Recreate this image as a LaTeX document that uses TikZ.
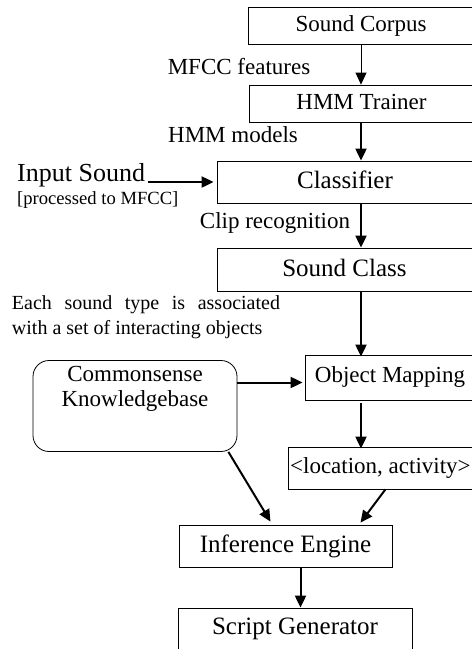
\documentclass[tikz,border=0pt]{standalone}
\usepackage{fontspec}
\setmainfont{Liberation Serif}
\usetikzlibrary{arrows.meta}

\begin{document}
\begin{tikzpicture}[x=1pt, y=-1pt, >={Triangle[length=12pt,width=11pt]},
    box/.style={draw, line width=0.8pt, inner sep=0pt, font=\fontsize{23}{27}\selectfont},
    lbl/.style={inner sep=0pt, font=\fontsize{23}{27}\selectfont},
    flow/.style={->, line width=2pt}]
    \useasboundingbox (0,0) rectangle (472,649);
    \clip (0,0) rectangle (472,649);
    % blocks
    \node[box, minimum width=226, minimum height=37] (corpus) at (361,25.5) {Sound Corpus};
    \node[box, minimum width=225, minimum height=37] (trainer) at (361.5,103.5) {\raisebox{4pt}{HMM Trainer}};
    \node[box, minimum width=256, minimum height=42, font=\fontsize{25}{29}\selectfont] (classifier) at (345,182) {\raisebox{4pt}{Classifier}};
    \node[box, minimum width=255, minimum height=43, font=\fontsize{25}{29}\selectfont] (soundclass) at (344.5,269.5) {\raisebox{4pt}{Sound Class}};
    \node[box, minimum width=170, minimum height=45] (objmap) at (390,377.5) {\raisebox{5pt}{Object Mapping}};
    \node[box, minimum width=184, minimum height=42, anchor=west] (loc) at (288,468) {\raisebox{-2pt}{<location, activity>}};
    \node[box, rounded corners=16pt, minimum width=204, minimum height=91] (common) at (135,406) {\parbox[c][80pt][t]{200pt}{\centering\baselineskip=25pt Commonsense\\Knowledgebase}};
    \node[box, minimum width=213, minimum height=42, font=\fontsize{25}{29}\selectfont] (inference) at (285.5,546) {\raisebox{4pt}{Inference Engine}};
    \node[box, minimum width=234, minimum height=42, font=\fontsize{25}{29}\selectfont] (script) at (295,629) {\raisebox{4pt}{Script Generator}};
    % texts
    \node[lbl] (mfcc) at (239,67) {MFCC features};
    \node[lbl] (hmm) at (233,135) {HMM models};
    \node[lbl, anchor=west, font=\fontsize{26}{30}\selectfont] (input) at (17,175) {Input Sound};
    \node[lbl, anchor=west, font=\fontsize{18.6}{22}\selectfont] (processed) at (17,200) {[processed to MFCC]};
    \node[lbl] (clip) at (275,223) {Clip recognition};
    \node[lbl, text width=268pt, align=justify, font=\fontsize{20}{25}\selectfont] (note) at (146,317.5) {Each sound type is associated with a set of interacting objects};
    % arrows
    \coordinate (spine) at (361,0);
    \draw[->, line width=0.8pt] (corpus.south -| spine) -- (trainer.north -| spine);
    \draw[flow] (trainer.south -| spine) -- (classifier.north -| spine);
    \draw[flow] ([xshift=3pt]input.east |- classifier.west) -- ([xshift=-3pt]classifier.west);
    \draw[flow] (classifier.south -| spine) -- (soundclass.north -| spine);
    \draw[flow] (soundclass.south -| spine) -- ([yshift=-2pt]objmap.north -| spine);
    \draw[flow] ([yshift=-5pt]common.east |- objmap.west) -- ([yshift=-5pt,xshift=-2pt]objmap.west);
    \draw[flow] ([yshift=-3pt]objmap.south -| spine) -- ([yshift=-2pt]loc.north -| spine);
    \draw[flow] ([xshift=-9pt]common.south east) -- ([xshift=-15pt,yshift=3pt]inference.north);
    \draw[flow] ([xshift=5pt]loc.south) -- ([xshift=75pt,yshift=2pt]inference.north);
    \draw[flow] ([xshift=15pt]inference.south) -- ([xshift=15pt]inference.south |- script.north);
\end{tikzpicture}
\end{document}
